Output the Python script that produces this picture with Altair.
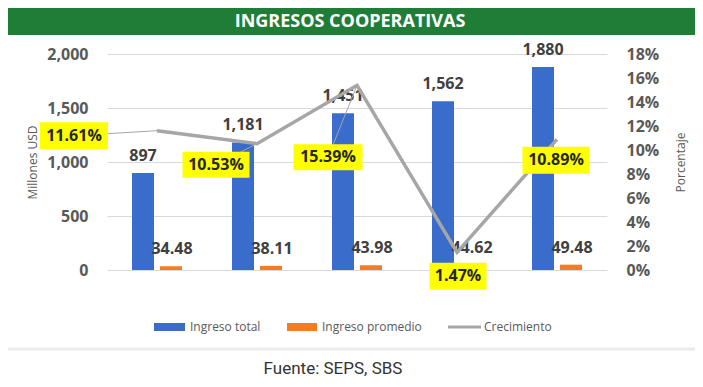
import altair as alt
import pandas as pd

# ---------------- data ----------------
years = ["2017", "2018", "2019", "2020", "2021"]
ingreso_total = [897, 1181, 1451, 1562, 1880]          # Millones USD
ingreso_promedio = [34.48, 38.11, 43.98, 44.62, 49.48]  # Millones USD
crecimiento = [11.61, 10.53, 15.39, 1.47, 10.89]        # %

series_names = ["Ingreso total", "Ingreso promedio", "Crecimiento"]
left_ticks = [0, 500, 1000, 1500, 2000]
right_ticks = [0, 0.02, 0.04, 0.06, 0.08, 0.10, 0.12, 0.14, 0.16, 0.18]

title_text = "INGRESOS COOPERATIVAS"
source_text = "Fuente: SEPS, SBS"

df = pd.DataFrame({
    "year": years,
    "total": ingreso_total,
    "promedio": ingreso_promedio,
    "crec": [c / 100 for c in crecimiento],
})

# ---------------- style ----------------
FONT = "Open Sans"
AX_TXT = "#595959"
LBL_TXT = "#404040"
BLUE = "#3A6CCB"
ORANGE = "#F47C24"
LINE_GREY = "#A6A6A6"
YELLOW = "#FFFF00"
GREEN = "#1F7D38"

# label placement (offset from point, box width, box height, leader)
label_style = {
    "2017": (-83, 5, 68, 27, True),
    "2018": (-41, 21, 67, 26, True),
    "2019": (-29, 72, 69, 26, True),
    "2020": (1, 24, 57, 27, False),
    "2021": (-1, 21, 67, 27, False),
}

W, H = 500, 216
PAD = {"left": 99, "top": 46, "right": 88, "bottom": 109}

base = alt.Chart(df)
xscale = alt.Scale(paddingInner=0, paddingOuter=0)
x_plain = alt.X("year:N", scale=xscale, axis=None)
x_axis = alt.X(
    "year:N", scale=xscale,
    axis=alt.Axis(title=None, labelFont=FONT, labelFontSize=16, labelFontWeight="bold",
                  labelColor=AX_TXT, ticks=False, domain=False, labelPadding=15,
                  labelAngle=0, grid=False),
)

yL_scale = alt.Scale(domain=[0, 2000], nice=False, zero=True)
yL_axis = alt.Axis(
    title="Millones USD", values=left_ticks, format=",d", labelFont=FONT, labelFontSize=16,
    labelFontWeight="bold", labelColor=AX_TXT, ticks=False, domain=False, labelPadding=19,
    grid=True, gridColor="#D9D9D9", gridWidth=1,
    titleFont=FONT, titleFontSize=12, titleFontWeight="normal", titleColor=AX_TXT,
    titleX=-75, titleY=108, titleBaseline="middle",
)
yR_scale = alt.Scale(domain=[0, 0.18], nice=False, zero=True)
yR_axis = alt.Axis(
    title="Porcentaje", orient="right", values=right_ticks, format=".0%", labelFont=FONT,
    labelFontSize=16, labelFontWeight="bold", labelColor=AX_TXT, ticks=False, domain=False,
    labelPadding=19, grid=False,
    titleFont=FONT, titleFontSize=12, titleFontWeight="normal", titleColor=AX_TXT,
    titleX=73, titleY=108, titleBaseline="middle", titleAngle=270,
)

yL_plain = lambda f: alt.Y(f, scale=yL_scale, axis=None)
yR_plain = alt.Y("crec:Q", scale=yR_scale, axis=None)

blue_bars = base.mark_bar(width=22, xOffset=-14, color=BLUE).encode(
    x=x_axis, y=alt.Y("total:Q", scale=yL_scale, axis=yL_axis))
orange_bars = base.mark_bar(width=22, xOffset=14, color=ORANGE).encode(
    x=x_plain, y=yL_plain("promedio:Q"))
blue_lbl = base.mark_text(xOffset=-14, dy=-17, font=FONT, fontSize=16, fontWeight="bold",
                          color=LBL_TXT, baseline="middle").encode(
    x=x_plain, y=yL_plain("total:Q"), text=alt.Text("total:Q", format=",d"))
orange_lbl = base.mark_text(xOffset=15, dy=-17, font=FONT, fontSize=16, fontWeight="bold",
                            color=LBL_TXT, baseline="middle").encode(
    x=x_plain, y=yL_plain("promedio:Q"), text=alt.Text("promedio:Q", format=".2f"))

line = base.mark_line(color=LINE_GREY, strokeWidth=3.5).encode(
    x=x_plain, y=alt.Y("crec:Q", scale=yR_scale, axis=yR_axis))

pct_layers = []
for yr in years:
    dx, dy, bw, bh, leader = label_style[yr]
    sub = base.transform_filter(alt.datum.year == yr)
    if leader:
        pct_layers.append(sub.mark_point(
            shape=f"M0,0L{dx},{dy}", size=4, filled=False, stroke=LINE_GREY,
            strokeWidth=1, opacity=1).encode(x=x_plain, y=yR_plain))
    x0, x1 = dx - bw / 2, dx + bw / 2
    y0, y1 = dy - bh / 2, dy + bh / 2
    pct_layers.append(sub.mark_point(
        shape=f"M{x0},{y0}L{x1},{y0}L{x1},{y1}L{x0},{y1}Z", size=4, filled=True,
        fill=YELLOW, strokeWidth=0, opacity=1).encode(x=x_plain, y=yR_plain))
    pct_layers.append(sub.mark_text(
        dx=dx, dy=dy, font=FONT, fontSize=16, fontWeight="bold", color="#262626",
        baseline="middle", align="center").encode(
        x=x_plain, y=yR_plain, text=alt.Text("crec:Q", format=".2%")))

# ---------------- decorations ----------------
one = pd.DataFrame({"k": [0]})
deco = alt.Chart(one)
title_bar = deco.mark_rect(color=GREEN).encode(
    x=alt.value(-99), x2=alt.value(588), y=alt.value(-46), y2=alt.value(-19))
title_mark = deco.mark_text(text=title_text, font=FONT, fontSize=18, fontWeight="bold",
                            color="white", align="center", baseline="middle").encode(
    x=alt.value(243), y=alt.value(-32))

LEG_Y = 273
leg = [
    deco.mark_rect(color=BLUE).encode(x=alt.value(47), x2=alt.value(78),
                                      y=alt.value(LEG_Y - 4), y2=alt.value(LEG_Y + 4)),
    deco.mark_rect(color=ORANGE).encode(x=alt.value(180), x2=alt.value(210),
                                        y=alt.value(LEG_Y - 4), y2=alt.value(LEG_Y + 4)),
    deco.mark_rule(color=LINE_GREY, strokeWidth=3).encode(
        x=alt.value(341), x2=alt.value(374), y=alt.value(LEG_Y)),
]
for lx, name in zip([83, 215, 377], series_names):
    leg.append(deco.mark_text(text=name, font=FONT, fontSize=12, color=AX_TXT,
                              align="left", baseline="middle").encode(
        x=alt.value(lx), y=alt.value(LEG_Y)))

separator = deco.mark_rule(color="#EBEBEB", strokeWidth=3).encode(
    x=alt.value(-99), x2=alt.value(588), y=alt.value(295))
footer = deco.mark_text(text=source_text, font="Roboto", fontSize=17, color="#333333",
                        align="center", baseline="middle").encode(
    x=alt.value(226), y=alt.value(315))

chart = alt.layer(
    blue_bars, orange_bars, blue_lbl, orange_lbl, line, *pct_layers,
    title_bar, title_mark, *leg, separator, footer,
).resolve_scale(y="independent").properties(
    width=W, height=H, padding=PAD, autosize=alt.AutoSizeParams(type="none"),
    background="white",
).configure_view(strokeWidth=0)

chart.save("out.html", embed_options={"renderer": "svg", "actions": False})
